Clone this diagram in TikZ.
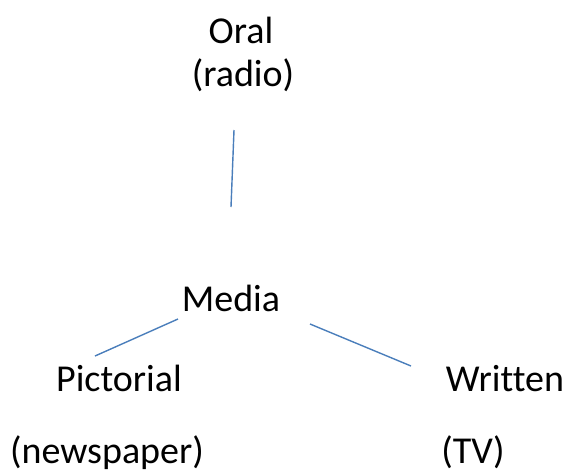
\documentclass[tikz,border=0pt]{standalone}
\usepackage{fontspec}
\setmainfont{Carlito}[Ligatures=NoCommon]
\definecolor{lineblue}{HTML}{4A7EBB}
\begin{document}
\begin{tikzpicture}[x=0.5pt, y=-0.5pt,
    every node/.style={font=\fontsize{19}{23}\selectfont, inner sep=0pt, anchor=base},
    link/.style={draw=lineblue, line width=0.7pt}]
    \useasboundingbox (0,0) rectangle (566,472);
    % TOP
    \node (oral) at (241,43) {Oral};
    \node (radio) at (243,86) {(radio)};
    % CENTRE
    \node (media) at (231,311) {Media};
    % SIDES
    \node (pictorial) at (119,391) {Pictorial};
    \node (newspaper) at (107,463) {(newspaper)};
    \node (written) at (505,391) {Written};
    \node (tv) at (473,463) {(TV)};
    % LINKS
    \coordinate (oralA) at (234,130);
    \coordinate (oralB) at (231,207);
    \coordinate (pictA) at (178,319);
    \coordinate (pictB) at (95,356);
    \coordinate (writA) at (310,324);
    \coordinate (writB) at (411,366);
    \draw[link] (oralA) -- (oralB);
    \draw[link] (pictA) -- (pictB);
    \draw[link] (writA) -- (writB);
\end{tikzpicture}
\end{document}
